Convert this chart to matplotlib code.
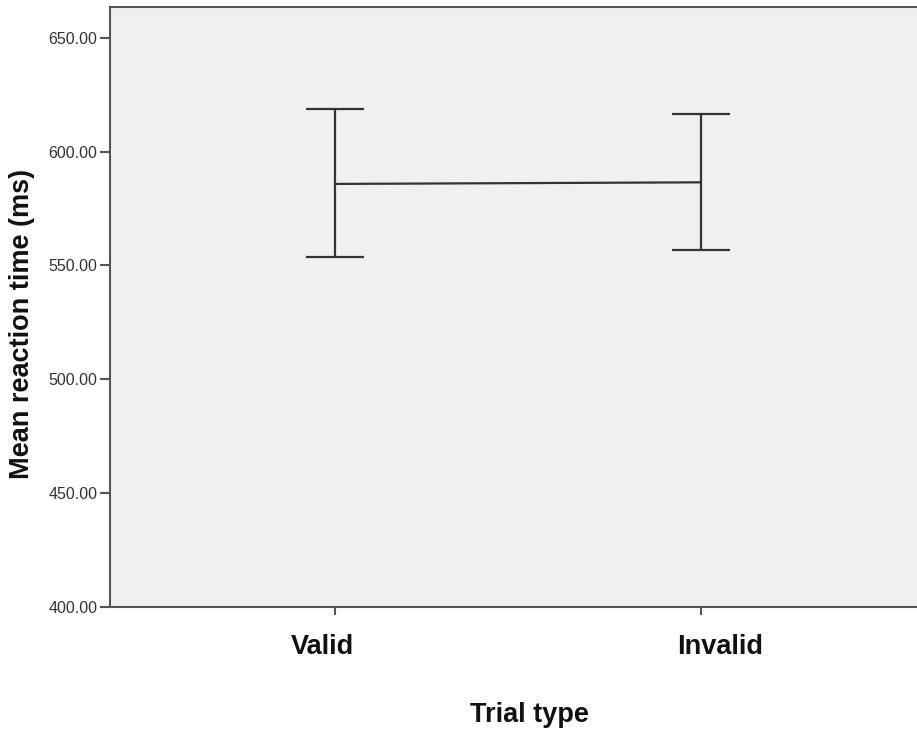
import matplotlib
matplotlib.use("Agg")
import matplotlib.pyplot as plt
import numpy as np

categories = ["Valid", "Invalid"]
means = [585.8, 586.5]
upper = [618.7, 616.5]
lower = [553.7, 556.6]
yticks = [400, 450, 500, 550, 600, 650]

plt.rcParams['font.family'] = ['Liberation Sans', 'DejaVu Sans']

fig = plt.figure(figsize=(9.17, 7.33), dpi=100)
ax = fig.add_axes([110/917, (733-607)/733, 1 - 110/917, (607-7)/733])
ax.set_facecolor('#f0f0f0')

x = np.arange(len(categories))
m = np.array(means)
yerr = [m - np.array(lower), np.array(upper) - m]
ax.errorbar(x, m, yerr=yerr, color='#333333', lw=1.6, capsize=21, capthick=1.6,
            elinewidth=1.6)

ax.set_xlim(-0.615, 1.591)
ax.set_ylim(400, 663.5)
ax.set_yticks(yticks)
ax.set_yticklabels([f"{v:.2f}" for v in yticks], fontsize=11.5, color='#333333')
ax.set_xticks(x)
ax.set_xticklabels([""] * len(categories))

# category labels, slightly offset from their ticks as in the reference
shifts_px = [-13, 19]
for xi, name, dx in zip(x, categories, shifts_px):
    ax.annotate(name, xy=(xi, 0), xycoords=ax.get_xaxis_transform(),
                xytext=(dx * 0.72, -40 * 0.72), textcoords='offset points',
                ha='center', va='center', fontsize=19.5, fontweight='bold',
                color='#111111', annotation_clip=False)

ax.tick_params(axis='y', length=7, width=1.5, color='#555555', pad=2)
ax.tick_params(axis='x', length=6, width=1.5, color='#555555', pad=14)

for s in ['left', 'bottom', 'top']:
    ax.spines[s].set_color('#555555')
    ax.spines[s].set_linewidth(1.5)
ax.spines['right'].set_visible(False)

fig.text(22/917, 1 - 324/733, "Mean reaction time (ms)", rotation=90, fontsize=19.5,
         fontweight='bold', ha='center', va='center', color='#111111')
fig.text(529/917, 1 - 715/733, "Trial type", fontsize=19.5, fontweight='bold',
         ha='center', va='center', color='#111111')

fig.savefig("out.png", dpi=100)
